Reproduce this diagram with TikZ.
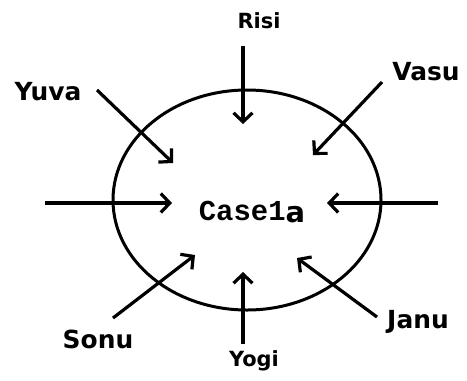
\documentclass[tikz,border=0pt]{standalone}
\usepackage{fontspec}
\usepackage{tikz}
\usetikzlibrary{arrows.meta,positioning}
\newfontfamily\lblfont{DejaVu Sans}
\newfontfamily\casefont{Liberation Mono}
\tikzset{
  ring/.style={
    line width = 3bp,
    draw
  },
}
\tikzset{
  push/.style={
    line width = 3.2bp,
    -{Straight Barb[length=9bp,width=19bp,line width=3.2bp]}
  },
}
\tikzset{
  bigname/.style={
    anchor = base,
    inner sep = 0pt,
    font = \lblfont\bfseries\fontsize{25}{30}\selectfont
  },
  smallname/.style={
    anchor = base,
    inner sep = 0pt,
    font = \lblfont\bfseries\fontsize{21}{25}\selectfont
  },
  casename/.style={
    anchor = base,
    inner sep = 0pt,
    font = \casefont\bfseries\fontsize{29}{34}\selectfont
  }
}

\begin{document}
\begin{tikzpicture}[x=1bp,y=-1bp]
    \useasboundingbox (0,0) rectangle (467,380);
    \def\cx{247}
    \def\cy{200}
    \draw[ring] (\cx,\cy) ellipse [x radius=134bp, y radius=110bp];
    \node[casename] (case) at (252,220) {Case1{\lblfont\raisebox{-2bp}{a}}};
    \node[smallname] (risi) at (259,28) {Risi};
    \node[bigname] (yuva) at (48,100) {Yuva};
    \node[bigname] (vasu) at (426,80) {Vasu};
    \node[bigname] (sonu) at (98,348) {Sonu};
    \node[bigname] (janu) at (418,328) {Janu};
    \node[smallname] (yogi) at (254,366) {Yogi};
    % start and tip of each arrow
    \foreach \nm/\sx/\sy/\tx/\ty in {risi/243/46/243/124, yuva/97/90/173/163,
      vasu/382/82/313/155, west/45/203/172/203, east/438/203/327/203,
      sonu/113/318/195/255, janu/377/317/297/258, yogi/243/344/243/272}{
    \coordinate (\nm-s) at (\sx,\sy);
    \coordinate (\nm-t) at (\tx,\ty);
    \draw[push] (\nm-s) -- (\nm-t);}
\end{tikzpicture}
\end{document}
